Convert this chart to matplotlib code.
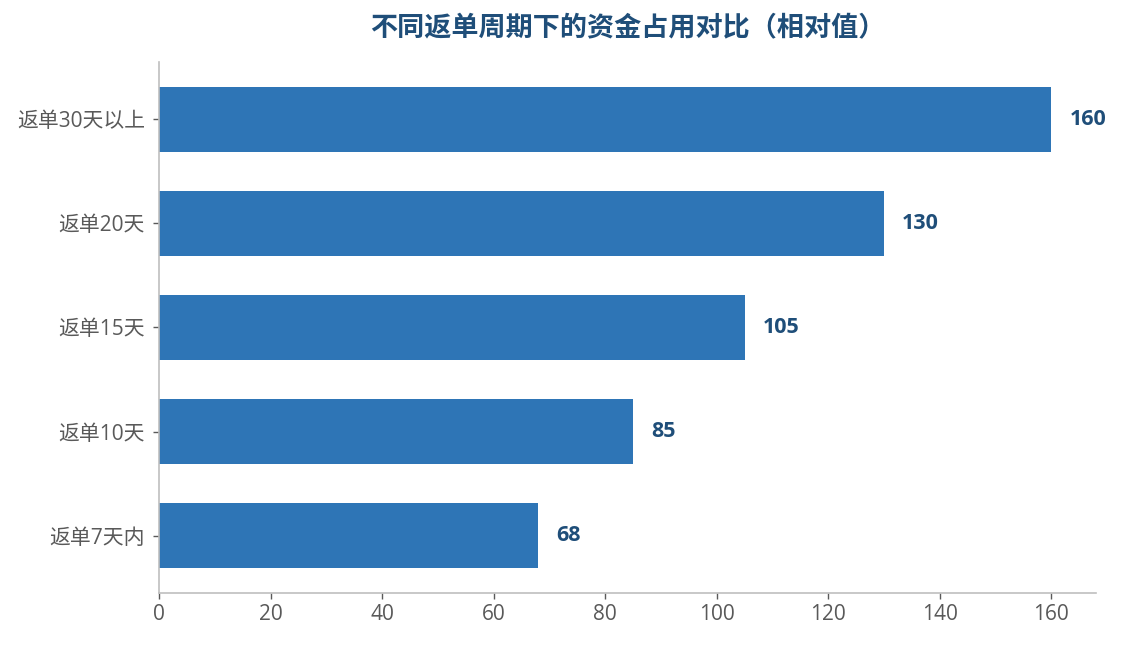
import matplotlib
matplotlib.use("Agg")
import matplotlib.pyplot as plt

plt.rcParams['font.family'] = ['Open Sans', 'Noto Sans CJK SC', 'DejaVu Sans']

categories = ["返单7天内", "返单10天", "返单15天", "返单20天", "返单30天以上"]
values = [68, 85, 105, 130, 160]
xticks = [0, 20, 40, 60, 80, 100, 120, 140, 160]
title = "不同返单周期下的资金占用对比（相对值）"

bar_color = "#2E75B6"
dark_blue = "#1F4E79"
tick_color = "#595959"
spine_color = "#BFBFBF"

fig = plt.figure(figsize=(11.23, 6.45), dpi=100)
ax = fig.add_axes([0.1416, 0.0806, 0.8344, 0.8233])

ypos = list(range(len(categories)))
ax.barh(ypos, values, height=0.62, color=bar_color)

for y, v in zip(ypos, values):
    ax.annotate(f"{v}", xy=(v, y), xytext=(13, 0), textcoords="offset points",
                ha="left", va="center", fontsize=15.5, fontweight="bold", color=dark_blue)

ax.set_yticks(ypos)
ax.set_yticklabels(categories)
ax.set_xticks(xticks)
ax.set_xlim(0, 168)
ax.set_ylim(-0.55, 4.55)

for s in ["top", "right"]:
    ax.spines[s].set_visible(False)
for s in ["left", "bottom"]:
    ax.spines[s].set_color(spine_color)
    ax.spines[s].set_linewidth(1.2)

ax.tick_params(axis="both", colors=tick_color, length=4, width=1)
ax.tick_params(axis="x", labelsize=15, pad=4)
ax.tick_params(axis="y", labelsize=15, pad=6)

fig.text(0.5 * (0.1416 + 0.976), 1 - 29 / 645, title, ha="center", va="center",
         fontsize=19.5, fontweight="bold", color=dark_blue)

fig.savefig("out.png", dpi=100)
